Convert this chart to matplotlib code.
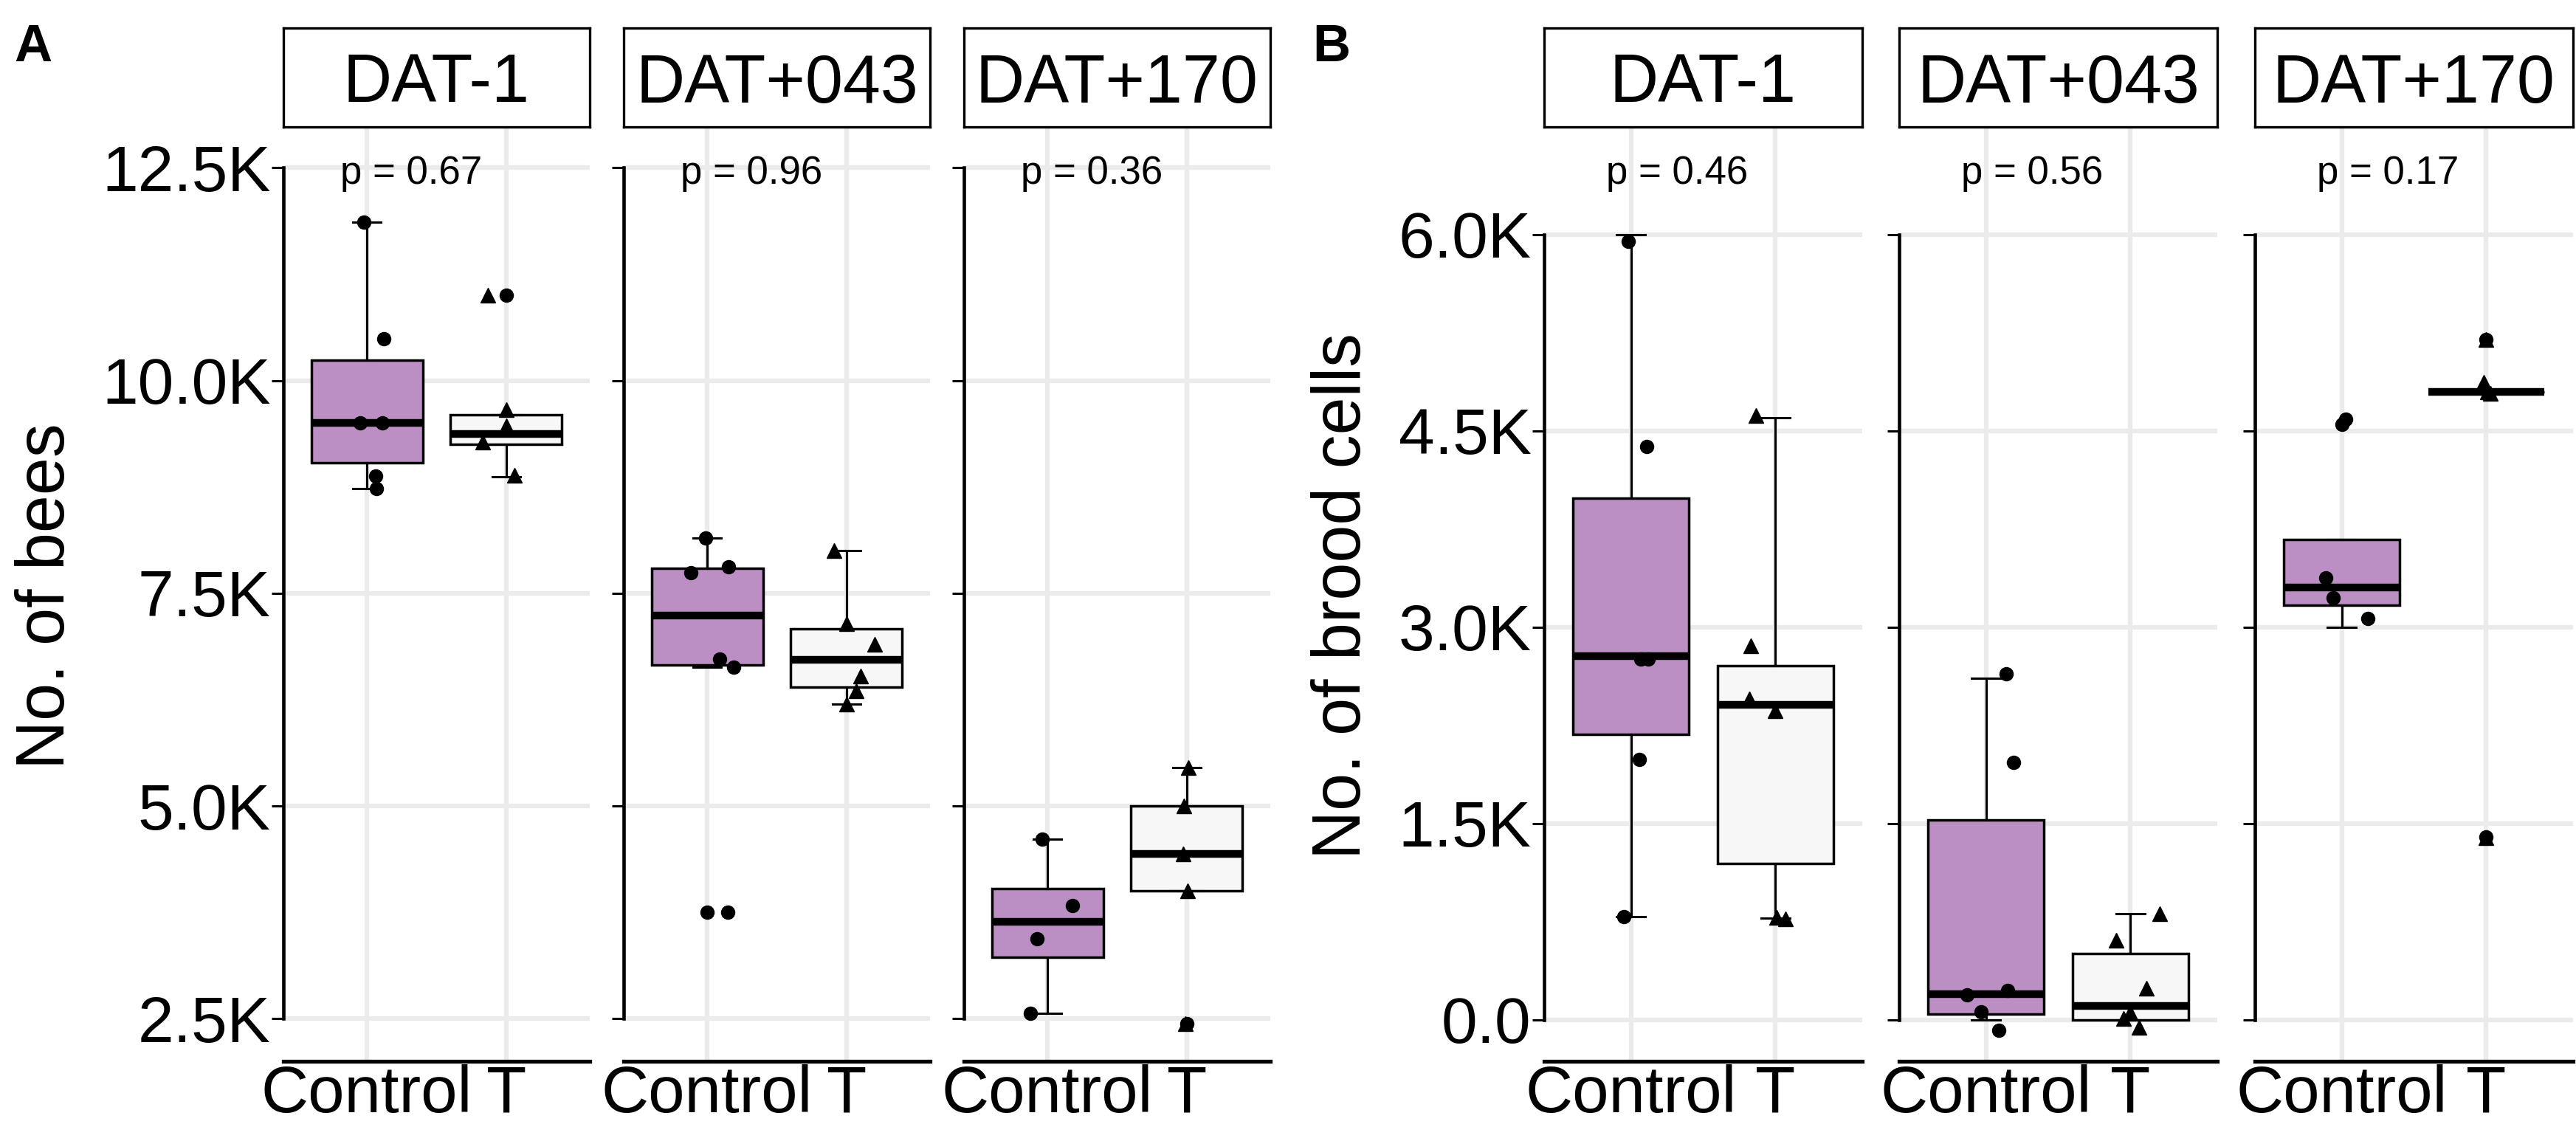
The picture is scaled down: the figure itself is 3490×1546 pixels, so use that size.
import matplotlib.pyplot as plt
import matplotlib.transforms as mtransforms
from matplotlib.ticker import FuncFormatter

plt.rcParams['font.family'] = ['Liberation Sans', 'DejaVu Sans']

# figure size in pixels (dpi 100)
W, H = 3491, 1546

days = ['DAT-1', 'DAT+043', 'DAT+170']
groups = ['Control', 'T']

# Panel A - number of bees per colony
bees_control = [
    [11860, 10490, 9500, 9500, 8880, 8730],
    [8150, 7810, 7740, 6730, 6630, 3755],
    [4610, 3834, 3440, 2560],
]
bees_t = [
    [11000, 9600, 9370, 9250, 8870],
    [8000, 7140, 6900, 6530, 6350, 6200],
    [5450, 5000, 4440, 4000, 2440],
]
bees_p = ['p = 0.67', 'p = 0.96', 'p = 0.36']
bees_ticks = [2500, 5000, 7500, 10000, 12500]

# Panel B - number of brood cells per colony
brood_control = [
    [6000, 4380, 2800, 2760, 1990, 790],
    [2610, 1970, 200, 190, 0, 0],
    [4550, 3380, 3225, 3000],
]
brood_t = [
    [4600, 2800, 2430, 2390, 800, 780],
    [810, 610, 210, 0, 0, 0],
    [5200, 4800, 4800, 4800, 1400],
]
brood_p = ['p = 0.46', 'p = 0.56', 'p = 0.17']
brood_ticks = [0, 1500, 3000, 4500, 6000]

# jitter of the points (x in category units, y in data units)
bees_jx_c = [[-0.02, 0.12, -0.05, 0.11, 0.065, 0.07],
             [-0.01, 0.155, -0.12, 0.09, 0.19, 0.15],
             [-0.036, 0.178, -0.075, -0.125]]
bees_jy_c = [[0] * 6, [0] * 6, [0] * 4]
bees_jx_t = [[-0.13, 0.0, 0.0, -0.17, 0.06],
             [-0.09, 0.0, 0.2, 0.10, 0.07, 0.0],
             [0.01, -0.02, -0.025, 0.005, -0.01]]
bees_jy_t = [[0, 60, 100, 30, 20], [0] * 6, [0] * 5]

brood_jx_c = [[-0.02, 0.11, 0.12, 0.07, 0.06, -0.05],
              [0.14, 0.19, 0.15, -0.13, -0.034, 0.09],
              [0.03, -0.11, -0.06, 0.18]]
brood_jy_c = [[-50, 0, -40, 0, 0, 0], [35, 0, 24, 0, 61, -80], [40, 0, 0, 70]]
brood_jx_t = [[-0.135, -0.17, -0.18, 0.0, 0.01, 0.07],
              [0.20, -0.10, 0.11, 0.0, 0.06, -0.05],
              [0.0, -0.02, 0.01, 0.03, 0.0]]
brood_jy_t = [[20, 60, 20, -30, -15, -10], [0, 0, 30, 57, -55, 10], [0, 70, 0, -10, -10]]

purple = '#BC8FC4'
light = '#F7F7F7'
grid_col = '#EBEBEB'


def kfmt(v, pos):
    if v == 0:
        return '0.0'
    return f'{v / 1000:.1f}K'


def px_rect(x0, y0, w, h):
    # pixel box (top-left origin) -> figure fraction
    return [x0 / W, 1 - (y0 + h) / H, w / W, h / H]


def draw_panel(fig, lefts, width, ctrl, trt, jxc, jyc, jxt, jyt, pvals, ticks, ylim):
    top, bottom = 172, 1438
    for i, day in enumerate(days):
        ax = fig.add_axes(px_rect(lefts[i], top, width, bottom - top))
        ax.set_xlim(0.4, 2.6)
        ax.set_ylim(*ylim)
        ax.set_axisbelow(True)
        ax.grid(True, color=grid_col, lw=4.5)

        bp = ax.boxplot([ctrl[i], trt[i]], positions=[1, 2], widths=0.8,
                        patch_artist=True, whis=1.5, capwidths=0.2,
                        medianprops=dict(color='black', lw=7.5, solid_capstyle='butt'),
                        boxprops=dict(edgecolor='black', lw=2.5),
                        whiskerprops=dict(color='black', lw=2.2),
                        capprops=dict(color='black', lw=2.2),
                        flierprops=dict(marker='o', markerfacecolor='black',
                                        markeredgecolor='black', markersize=13))
        for patch, col in zip(bp['boxes'], [purple, light]):
            patch.set_facecolor(col)

        xc = [1 + d for d in jxc[i]]
        yc = [v + d for v, d in zip(ctrl[i], jyc[i])]
        ax.plot(xc, yc, 'o', color='black', ms=13, zorder=5)
        xt = [2 + d for d in jxt[i]]
        yt = [v + d for v, d in zip(trt[i], jyt[i])]
        ax.plot(xt, yt, '^', color='black', ms=14, zorder=5)

        ax.set_xticks([1, 2])
        ax.set_xticklabels(groups)
        ax.set_yticks(ticks)
        ax.yaxis.set_major_formatter(FuncFormatter(kfmt))
        ax.tick_params(axis='x', length=0, pad=3, labelsize=64, colors='black')
        ax.tick_params(axis='y', length=11.5, width=2.2, pad=1, labelsize=63,
                       colors='black', labelleft=(i == 0))
        for s in ['top', 'right']:
            ax.spines[s].set_visible(False)
        ax.spines['left'].set_bounds(ticks[0], ticks[-1])
        ax.spines['left'].set_linewidth(3.3)
        ax.spines['bottom'].set_linewidth(3.8)

        trans = mtransforms.blended_transform_factory(ax.transData, ax.transAxes)
        ax.text(1.32, 0.95, pvals[i], transform=trans, ha='center', va='center',
                fontsize=38)

        # facet strip
        sax = fig.add_axes(px_rect(lefts[i], 38, width, top - 38))
        sax.set_xticks([])
        sax.set_yticks([])
        for s in sax.spines.values():
            s.set_linewidth(2.4)
        sax.text(0.5, 0.25, day, transform=sax.transAxes, ha='center',
                 va='baseline', fontsize=66)


fig = plt.figure(figsize=(W / 100, H / 100), dpi=100)

draw_panel(fig, [384, 845, 1306], 415, bees_control, bees_t,
           bees_jx_c, bees_jy_c, bees_jx_t, bees_jy_t, bees_p,
           bees_ticks, (2000, 12980))
draw_panel(fig, [2092, 2573, 3055], 431, brood_control, brood_t,
           brood_jx_c, brood_jy_c, brood_jx_t, brood_jy_t, brood_p,
           brood_ticks, (-316, 6823))

fig.text(63 / W, 1 - 808 / H, 'No. of bees', rotation=90, ha='center', va='center',
         fontsize=66)
fig.text(1819 / W, 1 - 808 / H, 'No. of brood cells', rotation=90, ha='center',
         va='center', fontsize=66)
fig.text(19 / W, 1 - 83 / H, 'A', fontsize=51, fontweight='bold', va='baseline')
fig.text(1778 / W, 1 - 83 / H, 'B', fontsize=51, fontweight='bold', va='baseline')

fig.savefig('out.png', dpi=100)
